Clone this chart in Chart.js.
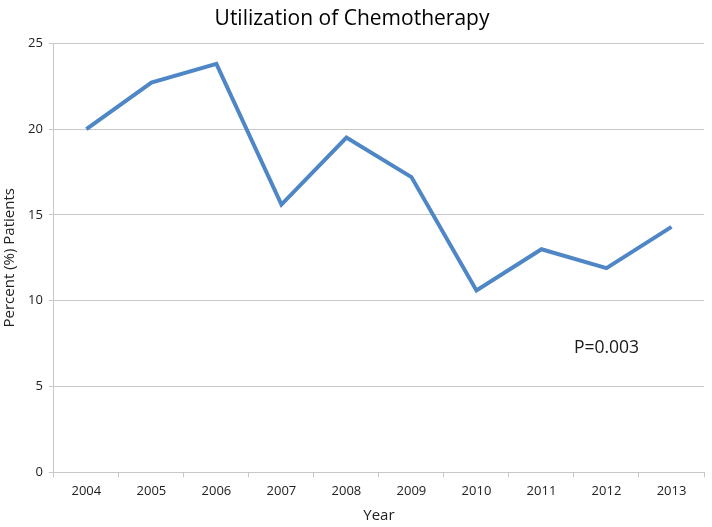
<!DOCTYPE html>
<html>
<head>
<meta charset="utf-8">
<script src="https://cdn.jsdelivr.net/npm/chart.js@4"></script>
<style>
  html, body { margin: 0; padding: 0; background: #fff; }
  #wrap { width: 712px; height: 527px; }
</style>
</head>
<body>
<div id="wrap"><canvas id="chemoChart" width="712" height="527"></canvas></div>
<script>
// --- DATA ---
const years = ['2004', '2005', '2006', '2007', '2008', '2009', '2010', '2011', '2012', '2013'];
const percentPatients = [20.0, 22.7, 23.8, 15.6, 19.5, 17.2, 10.6, 13.0, 11.9, 14.3];
const yTicks = [0, 5, 10, 15, 20, 25];

// p-value note, placed in data coordinates (category index, y value)
const noteText = 'P=0.003';
const noteAt = { index: 7.5, value: 7.25 };

const FONT = '"Open Sans", "DejaVu Sans", sans-serif';
const GRID = '#c8c8c8';

// draws the p-value text inside the plot
const notePlugin = {
    id: 'pNote',
    afterDatasetsDraw(chart) {
        const ctx = chart.ctx;
        const x = chart.scales.x.getPixelForValue(noteAt.index);
        const y = chart.scales.y.getPixelForValue(noteAt.value);
        ctx.save();
        ctx.font = '17.5px ' + FONT;
        ctx.fillStyle = '#1a1a1a';
        ctx.textAlign = 'left';
        ctx.textBaseline = 'middle';
        ctx.fillText(noteText, x, y);
        ctx.restore();
    }
};

const ctx = document.getElementById('chemoChart').getContext('2d');
new Chart(ctx, {
    type: 'line',
    data: {
        labels: years,
        datasets: [{
            label: 'Percent (%) Patients',
            data: percentPatients,
            borderColor: '#4f86c6',
            borderWidth: 4,
            pointRadius: 0,
            fill: false,
            tension: 0
        }]
    },
    options: {
        responsive: false,
        animation: false,
        devicePixelRatio: 1,
        layout: { padding: { left: 0, right: 8, top: 0, bottom: 2 } },
        plugins: {
            legend: { display: false },
            tooltip: { enabled: false },
            title: {
                display: true,
                text: 'Utilization of Chemotherapy',
                color: '#000',
                font: { family: FONT, size: 21, weight: 'normal' },
                padding: { top: 6, bottom: 12 }
            }
        },
        scales: {
            x: {
                offset: true,
                grid: {
                    offset: true,
                    drawOnChartArea: false,
                    drawTicks: true,
                    tickLength: 5,
                    color: GRID
                },
                border: { color: GRID, width: 1 },
                ticks: {
                    color: '#222',
                    font: { family: FONT, size: 13 },
                    padding: 6,
                    maxRotation: 0
                },
                title: {
                    display: true,
                    text: 'Year',
                    color: '#222',
                    font: { family: FONT, size: 15 },
                    padding: { top: 2, bottom: 0 }
                }
            },
            y: {
                min: 0,
                max: 25,
                afterBuildTicks(axis) {
                    axis.ticks = yTicks.map(v => ({ value: v }));
                },
                grid: {
                    color: GRID,
                    lineWidth: 1,
                    drawTicks: true,
                    tickLength: 5
                },
                border: { color: GRID, width: 1 },
                ticks: {
                    color: '#222',
                    font: { family: FONT, size: 13 },
                    padding: 6
                },
                title: {
                    display: true,
                    text: 'Percent (%) Patients',
                    color: '#222',
                    font: { family: FONT, size: 15 },
                    padding: { top: 1, bottom: 3 }
                }
            }
        }
    },
    plugins: [notePlugin]
});
</script>
</body>
</html>
